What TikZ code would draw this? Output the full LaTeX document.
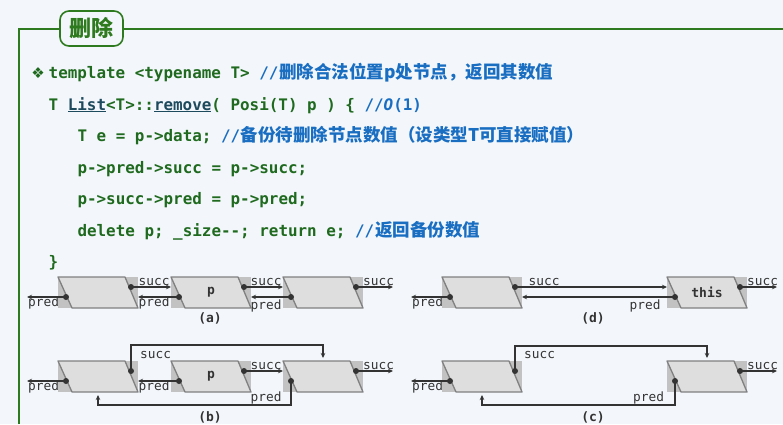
\documentclass[tikz,border=0pt]{standalone}
\usepackage{fontspec}
\setmonofont{DejaVu Sans Mono}
\newfontfamily\cjk{Noto Sans CJK SC}
\newfontfamily\symf{DejaVu Sans}
\usetikzlibrary{arrows.meta,calc}
\definecolor{bg}{HTML}{F3F7FB}
\definecolor{frameg}{HTML}{2E7A1E}
\definecolor{codeg}{HTML}{1F6A1F}
\definecolor{cmtb}{HTML}{1A6EC2}
\definecolor{linkc}{HTML}{1E4A5E}
\definecolor{rectg}{HTML}{C2C2C2}
\definecolor{parag}{HTML}{DEDEDE}
\definecolor{parab}{HTML}{808080}
\definecolor{ink}{HTML}{333333}
\newcommand\listnode[4]{%
  \node[lnode] (#1) at (#2+40,#3+15.5) {};
  \filldraw[fill=parag,draw=parab,line width=1.3pt,line join=round]
    (#1.north west) -- ($(#1.north east)+(-13,0)$) -- (#1.south east)
    -- ($(#1.south west)+(14,0)$) -- cycle;
  \node[inner sep=0pt,font=\fontsize{13}{15}\selectfont\ttfamily\bfseries,text=ink] (#1-t) at (#1.center) {#4};
  \coordinate (#1-s) at ($(#1.north east)+(-7,10)$);
  \coordinate (#1-p) at ($(#1.north west)+(8,20)$);
}
\begin{document}
\begin{tikzpicture}[x=1pt,y=-1pt,
  code/.style={anchor=base west,inner sep=0pt,font=\fontsize{15.9}{18}\selectfont\ttfamily\bfseries,text=codeg},
  cmt/.style={anchor=base west,inner sep=0pt,font=\fontsize{17.5}{20}\selectfont\cjk\bfseries,text=cmtb},
  lnode/.style={draw=none,fill=rectg,minimum width=80pt,minimum height=31pt,inner sep=0pt,outer sep=0pt},
  lbl/.style={anchor=base west,inner sep=0pt,font=\fontsize{12.8}{14}\selectfont\ttfamily,text=ink},
  capt/.style={inner sep=0pt,font=\fontsize{13}{15}\selectfont\ttfamily\bfseries,text=ink},
  arr/.style={draw=ink,line width=1.2pt,-{Stealth[length=5pt,width=4.5pt]}},
  dotc/.style={fill=ink}
]
\fill[bg] (0,0) rectangle (783,424);
\useasboundingbox (0,0) rectangle (783,424);

% frame and tab
\draw[frameg,line width=2pt] (19,424) -- (19,29) -- (783,29);
\node[draw=frameg,fill=bg,line width=1.6pt,rounded corners=9pt,minimum width=63pt,minimum height=35pt,inner sep=0pt,
  text=frameg,font=\fontsize{22}{24}\selectfont\cjk\bfseries] (tab) at (91.5,28.5) {删除};

% code
\node[inner sep=0pt,text=codeg,font=\fontsize{15}{17}\selectfont\symf] (bul) at (38,73) {❖};
\node[code] (l1) at (48.5,78.5) {template <typename T> \textcolor{cmtb}{//}};
\node[cmt] (c1) at (278.9,78.5) {删除合法位置p处节点，返回其数值};
\node[code] (l2) at (48.5,110) {T \textcolor{linkc}{\underline{List}}<T>::\textcolor{linkc}{\underline{remove}}( Posi(T) p ) \{ \textcolor{cmtb}{//\textit{O}(1)}};
\node[code] (l3) at (77.3,141.5) {T e = p->data; \textcolor{cmtb}{//}};
\node[cmt] (c3) at (240.5,141.5) {备份待删除节点数值（设类型T可直接赋值）};
\node[code] (l4) at (77.3,173) {p->pred->succ = p->succ;};
\node[code] (l5) at (77.3,204.5) {p->succ->pred = p->pred;};
\node[code] (l6) at (77.3,236) {delete p; \_size-{}-; return e; \textcolor{cmtb}{//}};
\node[cmt] (c6) at (374.9,236) {返回备份数值};
\node[code] (l7) at (48.5,267.5) {\}};

% ---------- (a)
\listnode{a1}{58}{277}{}
\listnode{a2}{171}{277}{p}
\listnode{a3}{283}{277}{}
\draw[arr] (a1-p) -- ++(-39,0);
\draw[arr] (a1-s) -- (a1-s -| a2.west);
\draw[arr] (a2-p) -- (a2-p -| a1.east);
\draw[arr] (a2-s) -- (a2-s -| a3.west);
\draw[arr] (a3-p) -- (a3-p -| a2.east);
\draw[arr] (a3-s) -- ++(37,0);
\foreach \n in {a1,a2,a3}{\fill[dotc] (\n-s) circle (3); \fill[dotc] (\n-p) circle (3);}
\node[lbl] (la1) at (28,306) {pred};
\node[lbl] (la2) at (138.5,285) {succ};
\node[lbl] (la3) at (138.5,306) {pred};
\node[lbl] (la4) at (250.5,285) {succ};
\node[lbl] (la5) at (250.5,309) {pred};
\node[lbl] (la6) at (363,285) {succ};
\node[capt] (capa) at (210,318) {(a)};

% ---------- (d)
\listnode{d1}{442}{277}{}
\listnode{d2}{667}{277}{this}
\draw[arr] (d1-p) -- ++(-39,0);
\draw[arr] (d1-s) -- (d1-s -| d2.west);
\draw[arr] (d2-p) -- (d2-p -| d1.east);
\draw[arr] (d2-s) -- ++(37,0);
\foreach \n in {d1,d2}{\fill[dotc] (\n-s) circle (3); \fill[dotc] (\n-p) circle (3);}
\node[lbl] (ld1) at (412,306) {pred};
\node[lbl] (ld2) at (528.5,285) {succ};
\node[lbl] (ld3) at (629.5,309) {pred};
\node[lbl] (ld4) at (747,285) {succ};
\node[capt] (capd) at (593,318) {(d)};

% ---------- (b)
\listnode{b1}{58}{361}{}
\listnode{b2}{171}{361}{p}
\listnode{b3}{283}{361}{}
\draw[arr] (b1-p) -- ++(-39,0);
\draw[arr] (b2-p) -- (b2-p -| b1.east);
\draw[arr] (b2-s) -- (b2-s -| b3.west);
\draw[arr] (b3-s) -- ++(37,0);
\draw[arr] (b1-s) -- ++(0,-26) -| ($(b3.north)+(0,-3)$);
\draw[arr] (b3-p) -- ++(0,24) -| ($(b1.south)+(0,3)$);
\foreach \n in {b1,b2,b3}{\fill[dotc] (\n-s) circle (3); \fill[dotc] (\n-p) circle (3);}
\node[lbl] (lb1) at (28,390) {pred};
\node[lbl] (lb2) at (140,358) {succ};
\node[lbl] (lb3) at (138.5,390) {pred};
\node[lbl] (lb4) at (250.5,369) {succ};
\node[lbl] (lb5) at (250.5,401) {pred};
\node[lbl] (lb6) at (363,369) {succ};
\node[capt] (capb) at (210,417) {(b)};

% ---------- (c)
\listnode{c1n}{442}{361}{}
\listnode{c2n}{667}{361}{}
\draw[arr] (c1n-p) -- ++(-39,0);
\draw[arr] (c2n-s) -- ++(37,0);
\draw[arr] (c1n-s) -- ++(0,-25) -| ($(c2n.north)+(0,-3)$);
\draw[arr] (c2n-p) -- ++(0,24) -| ($(c1n.south)+(0,3)$);
\foreach \n in {c1n,c2n}{\fill[dotc] (\n-s) circle (3); \fill[dotc] (\n-p) circle (3);}
\node[lbl] (lc1) at (412,390) {pred};
\node[lbl] (lc2) at (524,358) {succ};
\node[lbl] (lc3) at (633,401) {pred};
\node[lbl] (lc4) at (747,369) {succ};
\node[capt] (capc) at (593,417) {(c)};
\end{tikzpicture}
\end{document}
